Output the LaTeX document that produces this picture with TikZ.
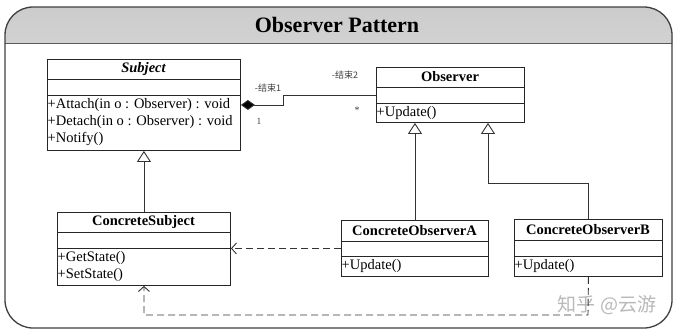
\documentclass[tikz,border=0pt]{standalone}
\usepackage{fontspec}
\setmainfont{Liberation Serif}
\newfontfamily\cjk{Noto Sans CJK SC}
\usetikzlibrary{arrows.meta}
\tikzset{
  cls/.style={draw=black!85, line width=0.9pt, inner sep=0pt, anchor=north west, fill=white},
  divline/.style={draw=black!85, line width=0.8pt},
  ttl/.style={font=\fontsize{14.5}{17}\selectfont\bfseries, inner sep=0pt},
  mth/.style={font=\fontsize{14.5}{17}\selectfont, inner sep=0pt, anchor=west},
  conn/.style={draw=black!80, line width=0.9pt},
  dep/.style={conn, dash pattern=on 7pt off 4pt, -{Straight Barb[length=5pt,width=11pt]}},
  gen/.style={conn, -{Triangle[open,length=11pt,width=14pt,fill=white]}},
  lbl/.style={font=\cjk\fontsize{9}{10}\selectfont, inner sep=0pt, text=black!75},
}
\begin{document}
\begin{tikzpicture}[x=1pt,y=-1pt]
\path[use as bounding box] (0,0) rectangle (678,333);
% frame and title band
\fill[white, rounded corners=28pt] (5,7) rectangle (672,328);
\begin{scope}
  \clip (0,0) rectangle (678,43);
  \fill[top color=gray!40, bottom color=white, rounded corners=28pt] (5,7) rectangle (672,328);
\end{scope}
\draw[gray!70!black, line width=0.9pt] (5,43) -- (672,43);
\draw[black!75, line width=1.3pt, rounded corners=28pt] (5,7) rectangle (672,328);
\node[font=\fontsize{22}{26}\selectfont\bfseries, inner sep=0pt] (title) at (337,25) {Observer Pattern};

% watermark
\node[font=\cjk\fontsize{19}{22}\selectfont, text=gray!55, inner sep=0pt] (wm) at (607,305) {知乎 @云游};

% Subject
\node[cls, minimum width=193pt, minimum height=91pt] (subj) at (47,59) {};
\draw[divline] (47,79) -- (240,79);
\draw[divline] (47,95) -- (240,95);
\node[ttl, font=\fontsize{14.5}{17}\selectfont\bfseries\itshape] (subjT) at (143.5,69.5) {Subject};
\node[mth] (subjM1) at (47.5,105) {+Attach(in o : Observer) : void};
\node[mth] (subjM2) at (47.5,122) {+Detach(in o : Observer) : void};
\node[mth] (subjM3) at (47.5,139) {+Notify()};

% Observer
\node[cls, minimum width=148pt, minimum height=55pt] (obs) at (376,67) {};
\draw[divline] (376,87) -- (524,87);
\draw[divline] (376,103) -- (524,103);
\node[ttl] (obsT) at (450,77) {Observer};
\node[mth] (obsM1) at (376.5,113) {+Update()};

% ConcreteSubject
\node[cls, minimum width=173pt, minimum height=73pt] (csubj) at (57,212) {};
\draw[divline] (57,232) -- (230,232);
\draw[divline] (57,248) -- (230,248);
\node[ttl] (csubjT) at (143.5,222) {ConcreteSubject};
\node[mth] (csubjM1) at (57.5,258) {+GetState()};
\node[mth] (csubjM2) at (57.5,275) {+SetState()};

% ConcreteObserverA
\node[cls, minimum width=147pt, minimum height=56pt] (coa) at (341,220) {};
\draw[divline] (341,241) -- (488,241);
\draw[divline] (341,256) -- (488,256);
\node[ttl] (coaT) at (414.5,230.5) {ConcreteObserverA};
\node[mth] (coaM1) at (341.5,266) {+Update()};

% ConcreteObserverB
\node[cls, minimum width=148pt, minimum height=57pt] (cob) at (514,219) {};
\draw[divline] (514,240) -- (662,240);
\draw[divline] (514,256) -- (662,256);
\node[ttl] (cobT) at (588,229.5) {ConcreteObserverB};
\node[mth] (cobM1) at (514.5,266) {+Update()};

% composition
\draw[conn, {Diamond[length=14pt,width=10pt,fill=black]}-] (subj.east) -- ++(43,0) |- (obs.west);
\node[lbl] (l1) at (268,88) {-结束1};
\node[lbl, font=\fontsize{9.5}{10}\selectfont] (m1) at (259,121) {1};
\node[lbl] (l2) at (345,75) {-结束2};
\node[lbl, font=\fontsize{10}{10}\selectfont] (m2) at (357,110) {*};

% generalisations
\draw[gen] (csubj.north) -- (subj.south);
\draw[gen] (coa.north) -- (coa.north |- obs.south);
\coordinate (bendB) at (488,183);
\draw[gen] (cob.north) |- (bendB) -- (bendB |- obs.south);

% dependencies
\draw[dep] (coa.west) -- (coa.west -| csubj.east);
\coordinate (lowB) at (588,315);
\draw[dep] (cob.south) -- (lowB) -| (csubj.south);
\end{tikzpicture}
\end{document}
